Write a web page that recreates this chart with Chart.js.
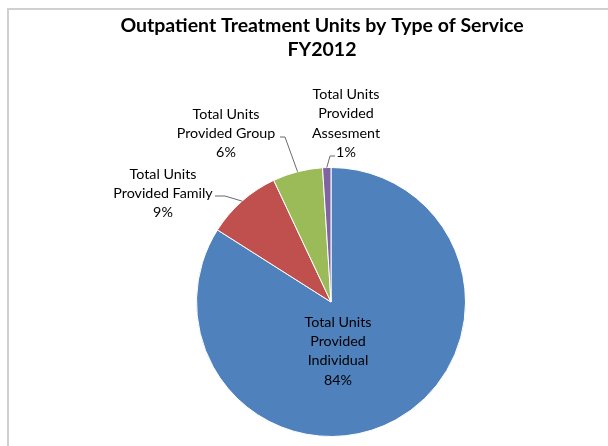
<!DOCTYPE html>
<html><head><meta charset="utf-8">
<script src="https://cdn.jsdelivr.net/npm/chart.js@4/dist/chart.umd.min.js"></script>
<style>html,body{margin:0;padding:0;background:#fff}#wrap{width:608px;height:446px;overflow:hidden}</style>
</head><body><div id="wrap"><canvas id="c" width="608" height="446"></canvas></div>
<script>
const categories = ["Total Units Provided Individual","Total Units Provided Family","Total Units Provided Group","Total Units Provided Assesment"];
const labelLines = [["Total Units","Provided","Individual"],["Total Units","Provided Family"],["Total Units","Provided Group"],["Total Units","Provided","Assesment"]];
const values = [84, 9, 6, 1];
const percentLabels = ["84%","9%","6%","1%"];
const colors = ["#4F81BD","#C0504D","#9BBB59","#8064A2"];
const titleLines = ["Outpatient Treatment Units by Type of Service","FY2012"];

// label placement relative to pie centre (px): text block centre, leader elbow, leader end
const labelLayout = [
  {tx: 7, ty: 49, leader: null},
  {tx: -168, ty: -108.5, elbow: [-106, -106], end: [-116, -106]},
  {tx: -105, ty: -168.5, elbow: [-46, -165], end: [-51, -165]},
  {tx: 15, ty: -178.5, elbow: [-1, -146], end: [4, -146]}
];

const FONT = "Lato, 'Open Sans', sans-serif";

const decor = {
  id: 'decor',
  beforeDraw(chart) {
    const ctx = chart.ctx;
    ctx.save();
    ctx.strokeStyle = '#d0d0d0';
    ctx.lineWidth = 2;
    ctx.beginPath();
    ctx.moveTo(8, 446); ctx.lineTo(8, 9); ctx.lineTo(608, 9);
    ctx.stroke();
    ctx.restore();
  },
  afterDraw(chart) {
    const ctx = chart.ctx;
    const meta = chart.getDatasetMeta(0);
    const arc0 = meta.data[0];
    const cx = arc0.x, cy = arc0.y;
    ctx.save();
    // title
    ctx.fillStyle = '#000';
    ctx.textAlign = 'center';
    ctx.textBaseline = 'middle';
    ctx.font = "bold 19.5px " + FONT;
    ctx.fillText(titleLines[0], 322, 26);
    ctx.fillText(titleLines[1], 322, 50);
    // labels
    ctx.font = "14.3px " + FONT;
    const lh = 19.3;
    meta.data.forEach((arc, i) => {
      const L = labelLayout[i];
      const lines = labelLines[i].concat([percentLabels[i]]);
      const bx = cx + L.tx, by = cy + L.ty;
      const top = by - (lines.length - 1) * lh / 2;
      if (L.elbow) {
        const mid = (arc.startAngle + arc.endAngle) / 2;
        const r = arc.outerRadius;
        ctx.strokeStyle = '#6b6b6b';
        ctx.lineWidth = 1;
        ctx.beginPath();
        ctx.moveTo(cx + r * Math.cos(mid), cy + r * Math.sin(mid));
        ctx.lineTo(cx + L.elbow[0], cy + L.elbow[1]);
        ctx.lineTo(cx + L.end[0], cy + L.end[1]);
        ctx.stroke();
      }
      ctx.fillStyle = '#000';
      lines.forEach((t, k) => ctx.fillText(t, bx, top + k * lh));
    });
    ctx.restore();
  }
};

new Chart(document.getElementById('c'), {
  type: 'pie',
  data: {
    labels: categories,
    datasets: [{data: values, backgroundColor: colors, borderColor: '#ffffff', borderWidth: 1}]
  },
  options: {
    responsive: false,
    animation: false,
    layout: {padding: {top: 167, bottom: 9, left: 196, right: 142}},
    plugins: {legend: {display: false}, title: {display: false}, tooltip: {enabled: false}}
  },
  plugins: [decor]
});
</script>
</body></html>
